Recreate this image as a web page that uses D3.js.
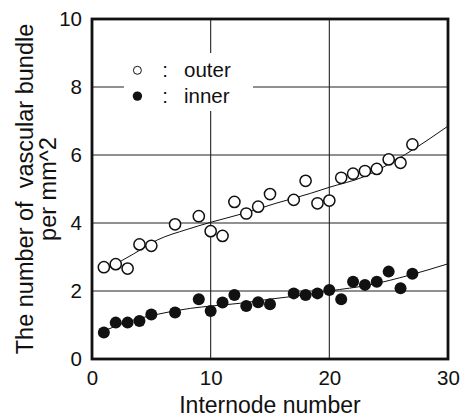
<!DOCTYPE html>
<html><head><meta charset="utf-8">
<script src="https://cdn.jsdelivr.net/npm/d3@7"></script>
<style>body{margin:0;background:#fff}text{font-family:"Liberation Sans",Arial,sans-serif;fill:#111}</style>
</head><body><svg id="c" width="466" height="418"></svg>
<script>
const internode = [1,2,3,4,5,7,9,10,11,12,13,14,15,17,18,19,20,21,22,23,24,25,26,27];
const outer = [2.70,2.79,2.66,3.37,3.33,3.96,4.20,3.76,3.62,4.62,4.28,4.48,4.85,4.68,5.24,4.58,4.66,5.33,5.45,5.53,5.59,5.87,5.77,6.31];
const inner = [0.78,1.07,1.07,1.12,1.31,1.37,1.76,1.41,1.66,1.88,1.56,1.67,1.61,1.93,1.88,1.93,2.03,1.76,2.27,2.18,2.27,2.57,2.08,2.51];
const outerFitX = [1,3.5,5.5,8,10,12.75,15.5,18.4,20,22.9,25.7,28.5,30];
const outerFit  = [2.60,3.09,3.50,3.81,4.02,4.28,4.58,4.87,5.05,5.36,5.87,6.49,6.85];
const innerFitX = [1,2.6,5.45,8.3,10.1,12.5,15,17.8,20,23.4,26.8,30];
const innerFit  = [0.82,1.05,1.31,1.49,1.56,1.64,1.76,1.88,2.00,2.18,2.47,2.80];
const xTicks = [0,10,20,30];
const yTicks = [0,2,4,6,8,10];
const legendItems = ["outer","inner"];

const svg = d3.select("#c");
const L=92,R=448,T=19,B=359;
const x = d3.scaleLinear().domain([0,30]).range([L,R]);
const y = d3.scaleLinear().domain([0,10]).range([B,T]);

// gridlines
const g = svg.append("g");
g.selectAll(".vx").data(xTicks.slice(1,-1)).join("line")
  .attr("x1",d=>x(d)).attr("x2",d=>x(d)).attr("y1",T).attr("y2",B)
  .attr("stroke","#222").attr("stroke-width",1.1);
g.selectAll(".hy").data(yTicks.slice(1,-1)).join("line")
  .attr("x1",L).attr("x2",R).attr("y1",d=>y(d)).attr("y2",d=>y(d))
  .attr("stroke","#222").attr("stroke-width",1.1);

// legend background
svg.append("rect").attr("x",124).attr("y",53).attr("width",129).attr("height",58).attr("fill","#fff");

// fit curves
const line = d3.line().x(d=>x(d[0])).y(d=>y(d[1])).curve(d3.curveMonotoneX);
svg.append("path").datum(outerFitX.map((v,i)=>[v,outerFit[i]])).attr("d",line)
  .attr("fill","none").attr("stroke","#111").attr("stroke-width",1);
svg.append("path").datum(innerFitX.map((v,i)=>[v,innerFit[i]])).attr("d",line)
  .attr("fill","none").attr("stroke","#111").attr("stroke-width",1);

// points
svg.append("g").selectAll("circle").data(internode.map((v,i)=>[v,outer[i]])).join("circle")
  .attr("cx",d=>x(d[0])).attr("cy",d=>y(d[1])).attr("r",5.6)
  .attr("fill","#fff").attr("stroke","#111").attr("stroke-width",1.5);
svg.append("g").selectAll("circle").data(internode.map((v,i)=>[v,inner[i]])).join("circle")
  .attr("cx",d=>x(d[0])).attr("cy",d=>y(d[1])).attr("r",6)
  .attr("fill","#111");

// frame
svg.append("rect").attr("x",L).attr("y",T).attr("width",R-L).attr("height",B-T)
  .attr("fill","none").attr("stroke","#111").attr("stroke-width",2.8);

// axes labels via d3 axes (no tick lines)
const xa = svg.append("g").attr("transform",`translate(0,${B})`)
  .call(d3.axisBottom(x).tickValues(xTicks).tickSize(0).tickPadding(11));
const ya = svg.append("g").attr("transform",`translate(${L},0)`)
  .call(d3.axisLeft(y).tickValues(yTicks).tickSize(0).tickPadding(10));
[xa,ya].forEach(a=>{a.select(".domain").remove();
  a.selectAll("text").attr("font-size",20.5).attr("font-family","Liberation Sans, Arial, sans-serif").attr("fill","#111");});

svg.append("text").attr("x",(L+R)/2).attr("y",413).attr("text-anchor","middle")
  .attr("font-size",23).text("Internode number");
const yl = svg.append("text").attr("transform",`translate(0,${(T+B)/2}) rotate(-90)`)
  .attr("text-anchor","middle").attr("font-size",23.5);
yl.append("tspan").attr("x",0).attr("y",33).text("The number of\u00a0 vascular bundle");
yl.append("tspan").attr("x",0).attr("y",56).text("per mm^2");

// legend
const lg = svg.append("g");
legendItems.forEach((t,i)=>{
  const cy = 70.3 + i*25.8;
  lg.append("circle").attr("cx",137.4).attr("cy",cy).attr("r",i===0?4:4.7)
    .attr("fill",i===0?"#fff":"#111").attr("stroke","#111").attr("stroke-width",i===0?1:0);
  lg.append("text").attr("x",165).attr("y",cy+7).attr("text-anchor","middle").attr("font-size",20.5).text(":");
  lg.append("text").attr("x",184).attr("y",cy+7).attr("font-size",20.5).text(t);
});
</script></body></html>
